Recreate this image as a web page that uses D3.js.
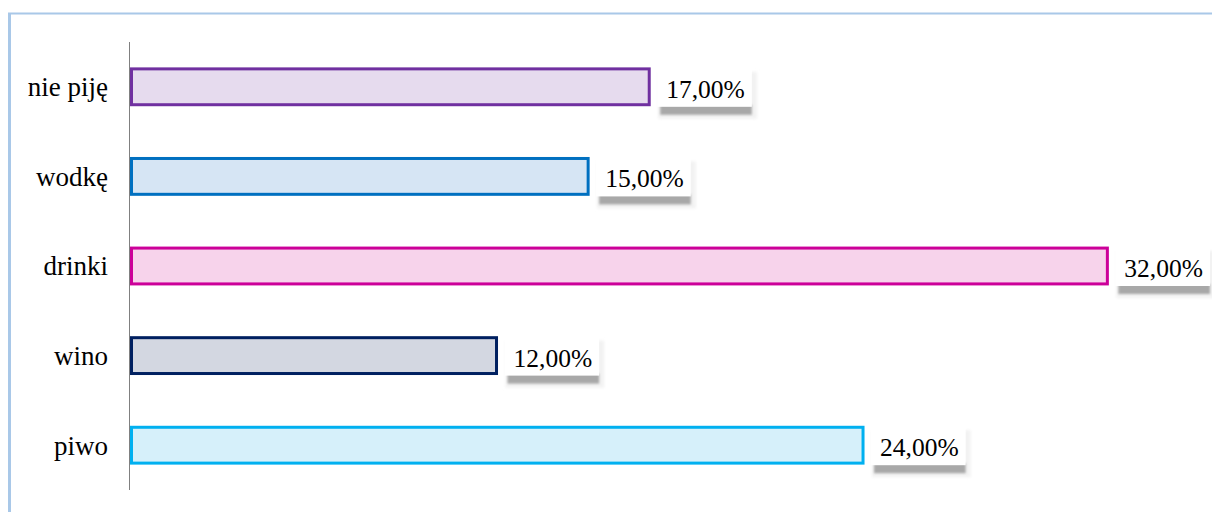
<!DOCTYPE html>
<html>
<head>
<meta charset="utf-8">
<script src="https://cdn.jsdelivr.net/npm/d3@7"></script>
<style>
  body { margin: 0; background: #fff; }
  svg { display: block; }
  text { font-family: "Liberation Serif", "Times New Roman", Times, serif; }
</style>
</head>
<body>
<svg></svg>
<script>
const categories = ["nie piję", "wodkę", "drinki", "wino", "piwo"]
const values = [17, 15, 32, 12, 24]
const strokes = ["#7030a0", "#0070c0", "#cc0099", "#002060", "#00b0f0"]
const fills = ["#e6dbee", "#d6e5f4", "#f7d3eb", "#d3d7e1", "#d6f0fa"]

const W = 1212, H = 512
const svg = d3.select("svg").attr("width", W).attr("height", H)

// frame
svg.append("line").attr("x1", 8).attr("x2", W).attr("y1", 13.5).attr("y2", 13.5).style("stroke", "#a9c8e8").style("stroke-width", 2)
svg.append("line").attr("x1", 9.5).attr("x2", 9.5).attr("y1", 13).attr("y2", H).style("stroke", "#a9c8e8").style("stroke-width", 3)

const defs = svg.append("defs")
defs.append("filter").attr("id", "blur").attr("x", "-20%").attr("y", "-50%").attr("width", "140%").attr("height", "200%")
  .append("feGaussianBlur").attr("stdDeviation", 0.8)
defs.append("filter").attr("id", "blur2").attr("x", "-20%").attr("y", "-50%").attr("width", "140%").attr("height", "200%")
  .append("feGaussianBlur").attr("stdDeviation", 1.5)

const x = d3.scaleLinear().domain([0, 35]).range([130, 1199]),
      y = d3.scaleBand().domain(categories).range([42, 490]).paddingInner(0.6).paddingOuter(0.3)

const data = categories.map((c, i) => ({cat: c, v: values[i], stroke: strokes[i], fill: fills[i]}))

// bars
svg.selectAll("rect.bar").data(data).join("rect").attr("class", "bar")
  .attr("x", x(0) + 1.5).attr("y", d => y(d.cat))
  .attr("width", d => x(d.v) - x(0) - 1.5).attr("height", y.bandwidth())
  .style("fill", d => d.fill).style("stroke", d => d.stroke).style("stroke-width", 3)

// axis line
svg.append("line").attr("x1", 129.5).attr("x2", 129.5).attr("y1", 42).attr("y2", 490).style("stroke", "#808080").style("stroke-width", 1)

// category labels
svg.selectAll("text.cat").data(data).join("text").attr("class", "cat")
  .attr("x", 108).attr("y", d => y(d.cat) + y.bandwidth() / 2).attr("dy", "0.35em")
  .style("text-anchor", "end").style("font-size", "27px").style("fill", "#000")
  .text(d => d.cat)

// value labels with shadowed boxes
const fmt = v => v.toFixed(2).replace(".", ",") + "%"
const lab = svg.selectAll("g.lab").data(data).join("g").attr("class", "lab")
  .attr("transform", d => `translate(${x(d.v) + 8},${y(d.cat) + y.bandwidth() / 2})`)

lab.each(function(d) {
  const g = d3.select(this)
  const t = g.append("text").attr("x", 9).attr("y", 11)
    .style("font-size", "25.5px").style("fill", "#000").text(fmt(d.v))
  const w = t.node().getComputedTextLength() + 16
  // soft halo
  g.insert("rect", "text").attr("x", 1).attr("y", -15).attr("width", w + 4).attr("height", 47)
    .style("fill", "#f2f2f2").attr("filter", "url(#blur2)")
  // dark shadow band
  g.insert("rect", "text").attr("x", 3).attr("y", 18).attr("width", w - 3).attr("height", 10)
    .style("fill", "#a8a8a8").attr("filter", "url(#blur)")
  // white box
  g.insert("rect", "text").attr("x", 0).attr("y", -21).attr("width", w).attr("height", 41)
    .style("fill", "#fff")
})
</script>
</body>
</html>
